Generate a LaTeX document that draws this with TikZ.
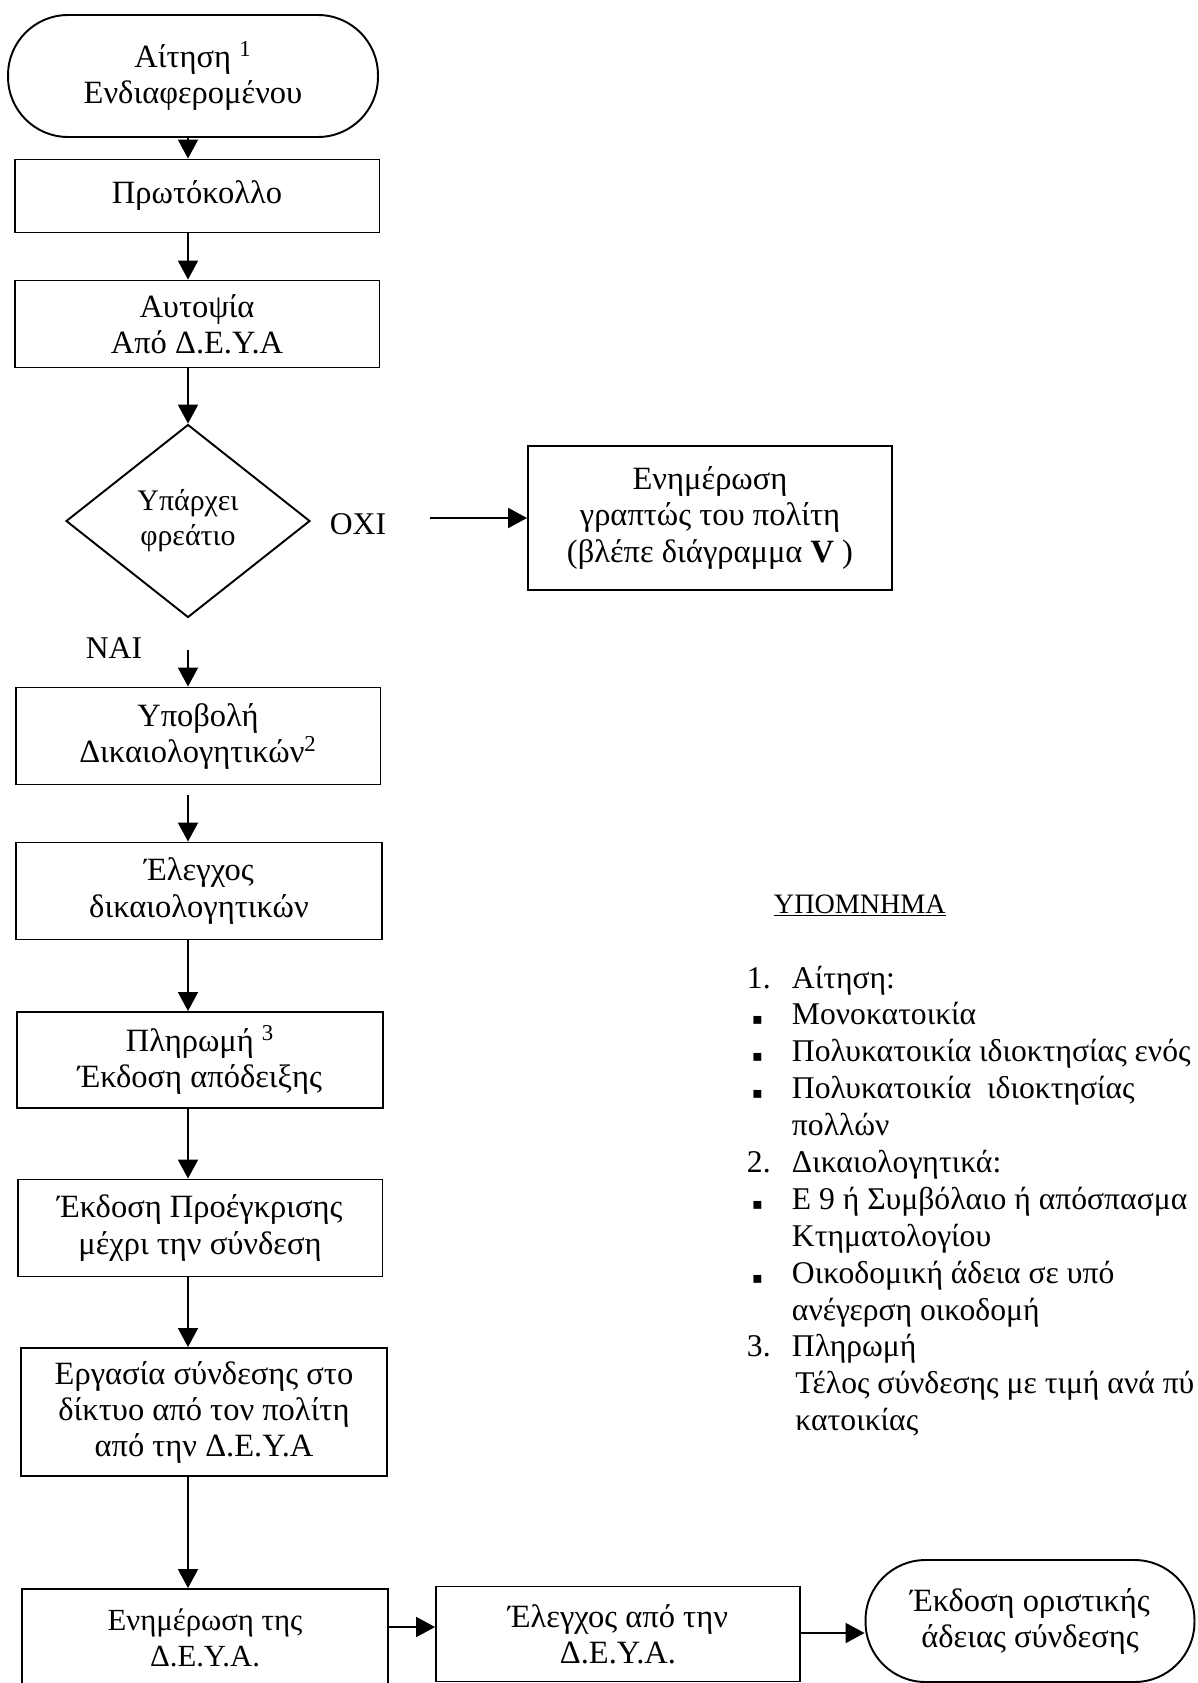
\documentclass[tikz,border=0pt]{standalone}
\usepackage{fontspec}
\setmainfont{Liberation Serif}
\newfontfamily\symfont{DejaVu Sans}
\usetikzlibrary{shapes.geometric,arrows.meta}

\begin{document}
\begin{tikzpicture}[x=0.02cm,y=-0.02cm,
line width=1.1pt,
box/.style={
	rectangle,draw=black,align=center,inner sep=0pt,
	minimum width=7.3cm,
	font=\fontsize{18.5}{20.5}\selectfont},
term/.style={box,rounded corners=1.2cm},
decision/.style={
	diamond,draw=black,align=center,inner sep=0pt,
	minimum width=4.88cm,minimum height=3.86cm,
	font=\fontsize{17}{20}\selectfont},
answer/.style={font=\fontsize{18}{21}\selectfont},
legend/.style={inner sep=0pt,align=left,
	font=\fontsize{18}{21}\selectfont},
arr/.style={-{Triangle[length=0.38cm,width=0.4cm]}},
]
\useasboundingbox (0,0) rectangle (1197,1683);
\clip (0,0) rectangle (1197,1683);
% main column
\node[term,minimum width=7.4cm,minimum height=2.44cm] (request) at (193,76)
	{Αίτηση \textsuperscript{1}\\Ενδιαφερομένου};
\node[box,minimum height=1.46cm] (protocol) at (197,196) {Πρωτόκολλο};
\node[box,minimum height=1.74cm] (inspect) at (197,324) {Αυτοψία\\Από Δ.Ε.Υ.Α};
\node[decision] (manhole) at (188,521) {Υπάρχει\\φρεάτιο};
\node[answer] (no) at (358,524) {ΟΧΙ};
\node[box,minimum width=7.28cm,minimum height=2.88cm] (notify) at (710,518)
	{Ενημέρωση\\γραπτώς του πολίτη\\(βλέπε διάγραμμα \textbf{V} )};
\node[answer] (yes) at (114,648) {ΝΑΙ};
\node[box,minimum height=1.94cm] (submit) at (198,736)
	{Υποβολή\\Δικαιολογητικών\textsuperscript{2}};
\node[box,minimum width=7.32cm,minimum height=1.94cm] (check) at (199,891)
	{Έλεγχος\\δικαιολογητικών};
\node[box,minimum width=7.32cm,minimum height=1.92cm] (payment) at (200,1060)
	{Πληρωμή \textsuperscript{3}\\Έκδοση απόδειξης};
\node[box,minimum height=1.94cm] (preapproval) at (200,1228)
	{Έκδοση Προέγκρισης\\μέχρι την σύνδεση};
\node[box,minimum width=7.32cm,minimum height=2.56cm] (works) at (204,1412)
	{Εργασία σύνδεσης στο\\δίκτυο από τον πολίτη\\από την Δ.Ε.Υ.Α};
% bottom row
\node[box,font=\fontsize{17.5}{20.5}\selectfont,minimum width=7.32cm,minimum height=1.96cm] (inform) at (205,1638)
	{Ενημέρωση της\\Δ.Ε.Υ.Α.};
\node[box,minimum width=7.28cm,minimum height=1.9cm] (control) at (618,1634)
	{Έλεγχος από την\\Δ.Ε.Υ.Α.};
\node[term,minimum width=6.58cm,minimum height=2.44cm] (licence) at (1030,1621)
	{Έκδοση οριστικής\\άδειας σύνδεσης};
% legend
\node[legend,font=\fontsize{16}{19}\selectfont,anchor=base west] (legendtitle) at (773,913)
	{\underline{ΥΠΟΜΝΗΜΑ}};
\node[legend,anchor=base west] (notes) at (746,988) {%
\begin{tabular}[t]{@{}p{0.9cm}@{}l@{}}
1. & Αίτηση:\\
\hspace{3pt}{\symfont\fontsize{9}{9}\selectfont ▪} & Μονοκατοικία\\
\hspace{3pt}{\symfont\fontsize{9}{9}\selectfont ▪} & Πολυκατοικία ιδιοκτησίας ενός\\
\hspace{3pt}{\symfont\fontsize{9}{9}\selectfont ▪} & Πολυκατοικία\ \ ιδιοκτησίας\\
 & πολλών\\
2. & Δικαιολογητικά:\\
\hspace{3pt}{\symfont\fontsize{9}{9}\selectfont ▪} & Ε 9 ή Συμβόλαιο ή απόσπασμα\\
 & Κτηματολογίου\\
\hspace{3pt}{\symfont\fontsize{9}{9}\selectfont ▪} & Οικοδομική άδεια σε υπό\\
 & ανέγερση οικοδομή\\
3. & Πληρωμή\\
 & \hspace{2pt}Τέλος σύνδεσης με τιμή ανά πύ\\
 & \hspace{2pt}κατοικίας
\end{tabular}};
% connectors
\coordinate (spine) at (188,0);
\coordinate (noend) at (430,518);
\coordinate (yesend) at (188,650);
\coordinate (row) at (0,1627);
\coordinate (row2) at (0,1633);
\draw[arr] (request.south -| spine) -- (protocol.north -| spine);
\draw[arr] (protocol.south -| spine) -- (inspect.north -| spine);
\draw[arr] (inspect.south -| spine) -- (manhole.north);
\draw[arr] (noend) -- (notify.west);
\draw[arr] (yesend) -- (submit.north -| spine);
\draw[arr,shorten <=0.2cm] (submit.south -| spine) -- (check.north -| spine);
\draw[arr] (check.south -| spine) -- (payment.north -| spine);
\draw[arr] (payment.south -| spine) -- (preapproval.north -| spine);
\draw[arr] (preapproval.south -| spine) -- (works.north -| spine);
\draw[arr] (works.south -| spine) -- (inform.north -| spine);
\draw[arr] (inform.east |- row) -- (control.west |- row);
\draw[arr] (control.east |- row2) -- (licence.west |- row2);
\end{tikzpicture}
\end{document}
